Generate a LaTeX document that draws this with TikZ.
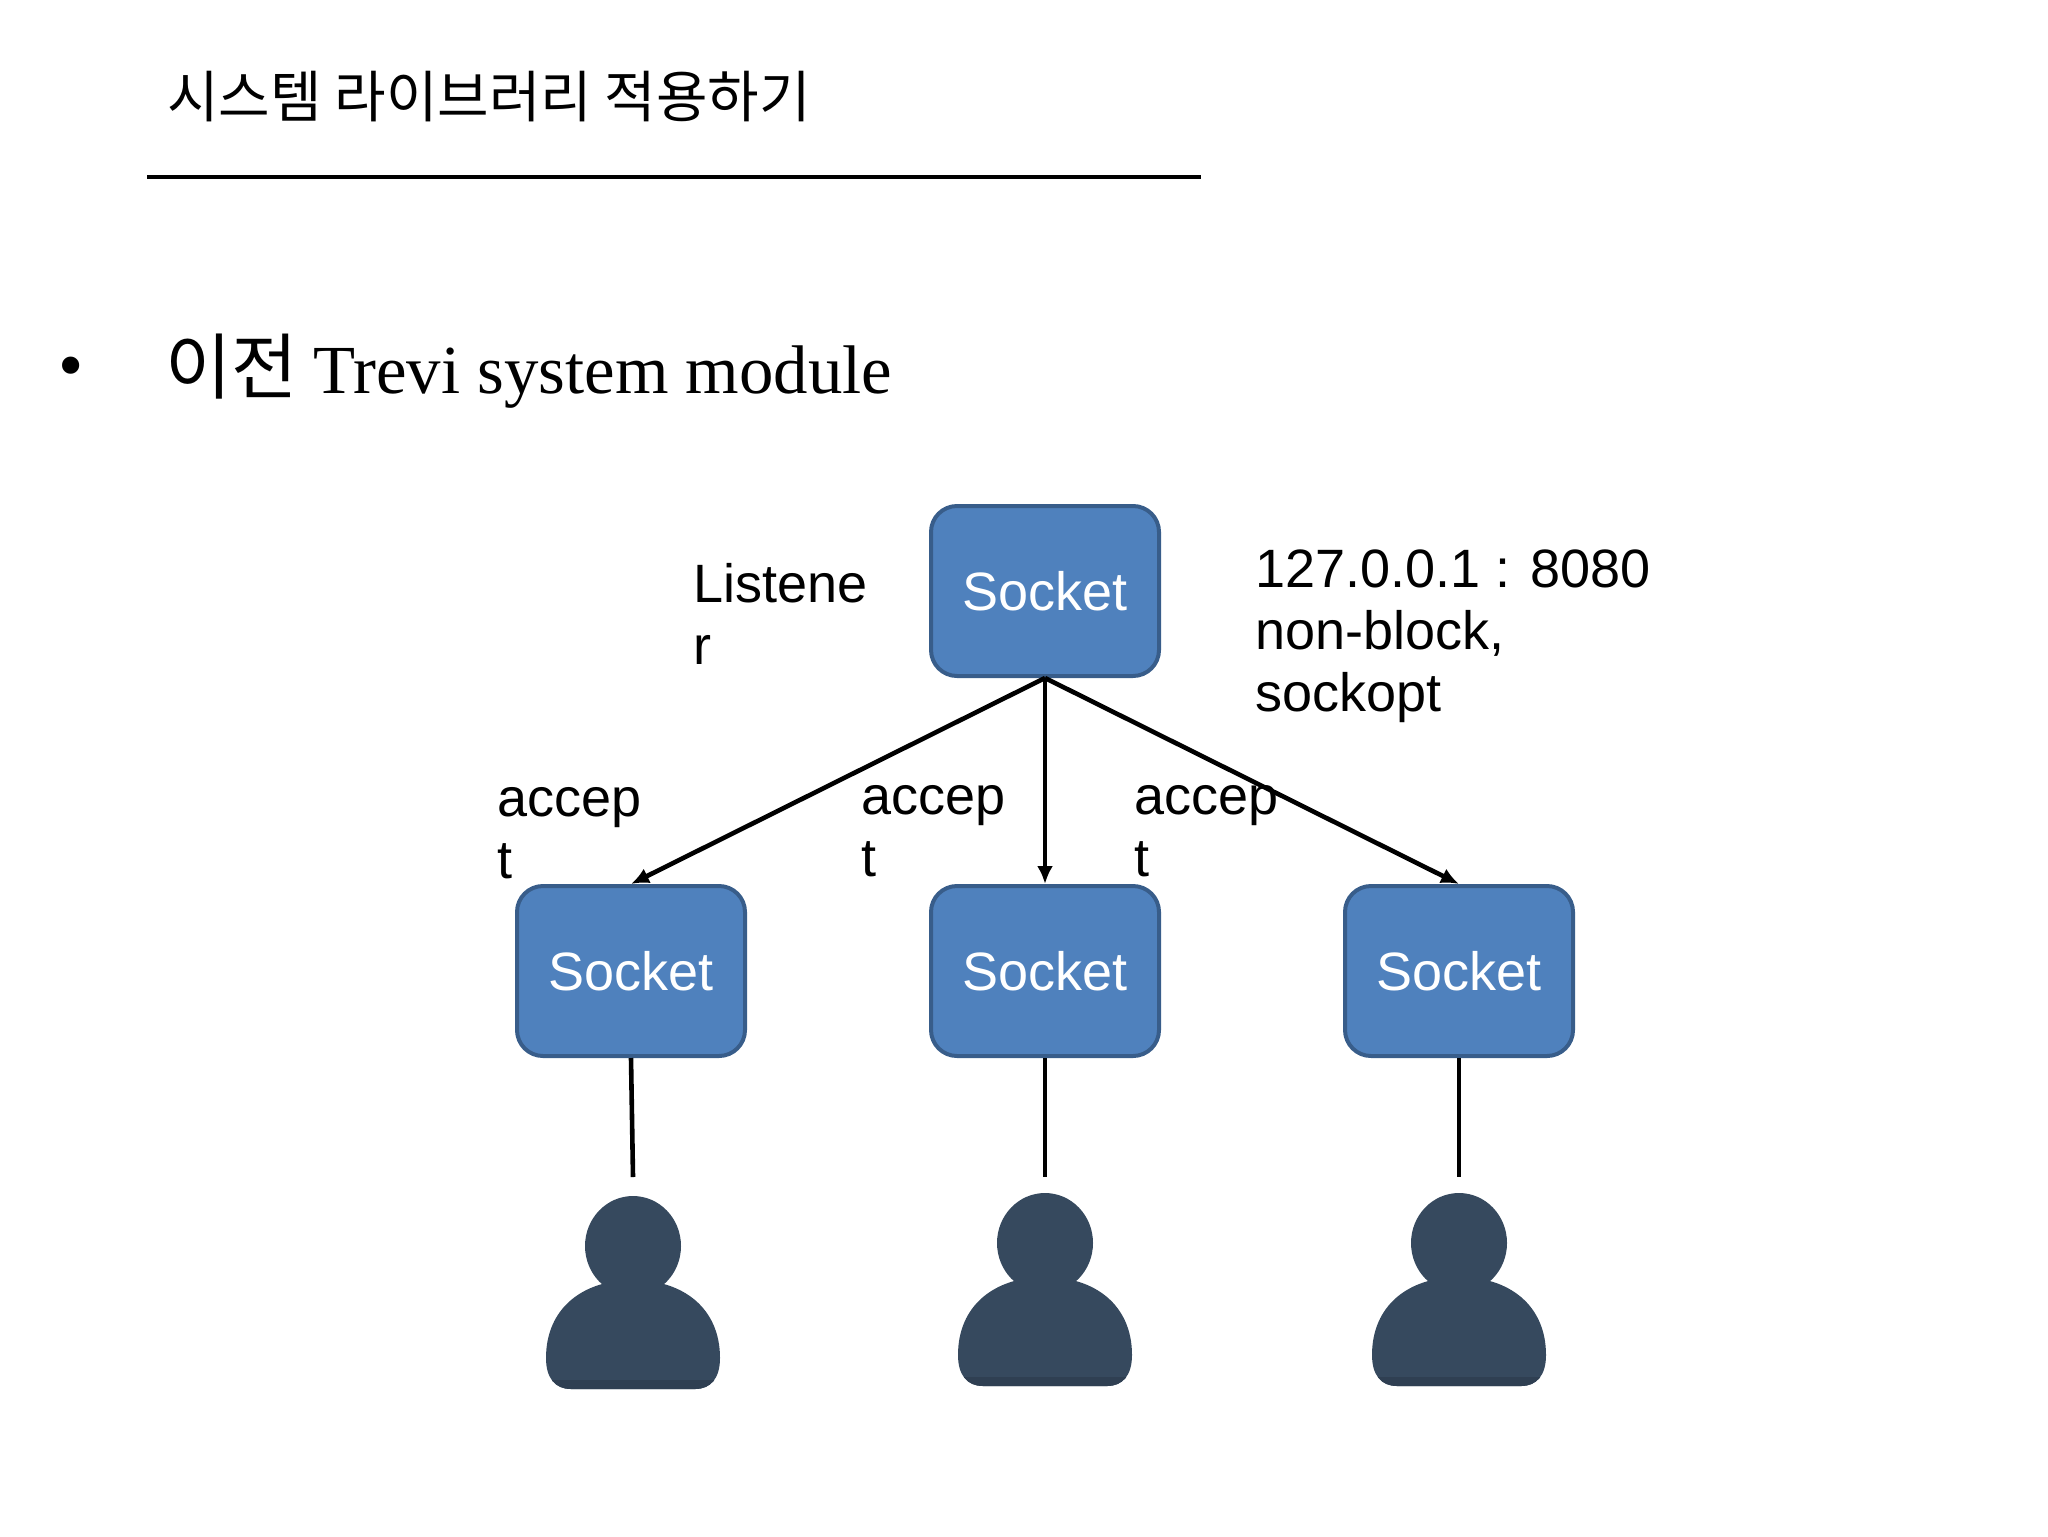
\documentclass[tikz,border=0pt]{standalone}
\usepackage{fontspec}
\setmainfont{Liberation Serif}
\newfontfamily\krfont{Noto Sans CJK KR}
\newfontfamily\labelfont{Liberation Sans}
\usetikzlibrary{arrows.meta}
\definecolor{sockblue}{HTML}{4F81BD}
\definecolor{sockedge}{HTML}{385D8A}
\definecolor{userblue}{HTML}{36495E}
\definecolor{userdark}{HTML}{2F3F52}
\tikzset{
    sockbox/.style={draw=sockedge, line width=2pt, fill=sockblue, rounded corners=13pt,
        minimum width=114pt, minimum height=85pt, text=white, font=\labelfont\fontsize{27}{31}\selectfont},
    sidetext/.style={anchor=base west, inner sep=0pt, align=left, font=\labelfont\fontsize{27}{31}\selectfont},
    wire/.style={line width=2.3pt},
    userbody/.style={insert path={(-87,112) .. controls (-87,62) and (-50,34) .. (0,34)
            .. controls (50,34) and (87,62) .. (87,112)
            .. controls (87,132) and (78,143) .. (62,143) -- (-62,143)
            .. controls (-78,143) and (-87,132) .. (-87,112) -- cycle}},
    user/.pic={
        \fill[userblue, userbody];
        \fill[userblue] (0,0) ellipse [x radius=48, y radius=50];
        \begin{scope}
            \clip (-90,134) rectangle (90,146);
            \fill[userdark, userbody];
        \end{scope}
    }
}
\begin{document}
\begin{tikzpicture}[>={Latex[length=9pt,width=8pt]}, x=.5pt, y=-.5pt]
\useasboundingbox (0,0) rectangle (2048,1536);

\node (title) at (167,118)[anchor=base west, inner sep=0pt]{\krfont\fontsize{28}{33}\selectfont 시스템 라이브러리 적용하기};
\draw[line width=1.6pt] (147,177)--(1201,177);
\node (bullet) at (71,373){\fontsize{36}{40}\selectfont •};
\node (intro) at (165,393)[anchor=base west, inner sep=0pt]{{\krfont\fontsize{36}{40}\selectfont 이전}\hspace{8pt}\fontsize{34.4}{40}\selectfont Trevi system module};

\node[sockbox] (listen) at (1045,591){Socket};
\foreach \name/\x in {sockA/631, sockB/1045, sockC/1459}
{
    \node[sockbox] (\name) at (\x,971){Socket};
}

\foreach \name in {sockA,sockB,sockC}
{
    \draw[wire,->] (listen.south)--(\name.north);
}

\node[sidetext] (listener) at (693,664){Listene\\r};
\node[sidetext] (addr) at (1255,711){127.0.0.1 : 8080\\non-block,\\sockopt};
\node[sidetext] (acceptA) at (497,878){accep\\t};
\node[sidetext] (acceptB) at (861,876){accep\\t};
\node[sidetext] (acceptC) at (1134,876){accep\\t};

\coordinate (endA) at (633,1177);
\coordinate (endB) at (1045,1177);
\coordinate (endC) at (1459,1177);
\draw[wire] (sockA.south)--(endA);
\draw[wire] (sockB.south)--(endB);
\draw[wire] (sockC.south)--(endC);

\pic at (633,1246){user};
\pic at (1045,1243){user};
\pic at (1459,1243){user};
\end{tikzpicture}
\end{document}
